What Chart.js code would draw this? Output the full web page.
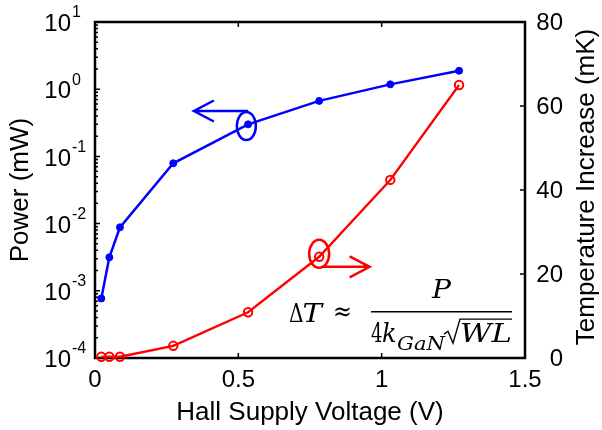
<!DOCTYPE html>
<html>
<head>
<meta charset="utf-8">
<script src="https://cdn.jsdelivr.net/npm/chart.js@4.4.0/dist/chart.umd.min.js"></script>
<style>
  html, body { margin: 0; padding: 0; background: #fff; }
</style>
</head>
<body>
<canvas id="hall" width="602" height="430"></canvas>
<script>
// values
const voltage = [0.022, 0.05, 0.087, 0.273, 0.534, 0.782, 1.03, 1.27];
const power = [0.00077, 0.00315, 0.0088, 0.079, 0.30, 0.67, 1.18, 1.88];   // mW
const tempRise = [0.3, 0.3, 0.3, 2.9, 10.9, 24.1, 42.4, 65.0];            // mK

const voltageTicks = [0, 0.5, 1, 1.5];
const powerTicks = [1e-4, 1e-3, 1e-2, 1e-1, 1, 10];
const tempTicks = [0, 20, 40, 60, 80];

// annotation anchors, in data units
const blueRing = { x: 0.528, y: 0.283 };
const blueArrow = { from: 0.534, to: 0.345, y: 0.474 };
const redRing = { x: 0.782, y: 24.8 };
const redArrow = { from: 0.792, to: 0.958, y: 21.7 };
const formulaAt = { x: 1.2087, y: 11.0 };

const sans = '"Liberation Sans", Arial, sans-serif';
const serif = '"DejaVu Serif", "Liberation Serif", serif';

function arrow(ctx, x0, x1, y, color) {
  const dir = x1 < x0 ? 1 : -1;
  ctx.strokeStyle = color;
  ctx.lineWidth = 2.5;
  ctx.beginPath();
  ctx.moveTo(x0, y);
  ctx.lineTo(x1, y);
  ctx.moveTo(x1 + dir * 20, y - 10.5);
  ctx.lineTo(x1, y);
  ctx.lineTo(x1 + dir * 20, y + 10.5);
  ctx.stroke();
}

function ring(ctx, x, y, rx, ry, color) {
  ctx.strokeStyle = color;
  ctx.lineWidth = 2.5;
  ctx.beginPath();
  ctx.ellipse(x, y, rx, ry, 0, 0, Math.PI * 2);
  ctx.stroke();
}

// draw a piece of text stretched to span x0..x1
function fitText(ctx, text, font, x0, x1, yb) {
  ctx.font = font;
  const w = ctx.measureText(text).width;
  ctx.save();
  ctx.translate(x0, yb);
  ctx.scale((x1 - x0) / w, 1);
  ctx.fillText(text, 0, 0);
  ctx.restore();
}

const decor = {
  id: 'decor',
  beforeDatasetsDraw(chart) {
    const { ctx, chartArea: a, scales } = chart;
    const { x, y, y1 } = scales;
    ctx.save();
    ctx.strokeStyle = '#000';
    ctx.lineWidth = 1.5;
    ctx.beginPath();
    voltageTicks.forEach(v => {
      const px = x.getPixelForValue(v);
      ctx.moveTo(px, a.bottom); ctx.lineTo(px, a.bottom - 5);
      ctx.moveTo(px, a.top); ctx.lineTo(px, a.top + 5);
    });
    powerTicks.forEach(v => {
      const py = y.getPixelForValue(v);
      ctx.moveTo(a.left, py); ctx.lineTo(a.left + 5, py);
      if (v < 10) {
        for (let k = 2; k <= 9; k++) {
          const pm = y.getPixelForValue(v * k);
          ctx.moveTo(a.left, pm); ctx.lineTo(a.left + 3, pm);
        }
      }
    });
    tempTicks.forEach(v => {
      const py = y1.getPixelForValue(v);
      ctx.moveTo(a.right, py); ctx.lineTo(a.right - 5, py);
    });
    ctx.stroke();
    ctx.lineWidth = 2.5;
    ctx.strokeRect(a.left, a.top, a.right - a.left, a.bottom - a.top);
    ctx.restore();
  },
  afterDatasetsDraw(chart) {
    const { ctx, chartArea: a, scales } = chart;
    const { x, y, y1 } = scales;
    ctx.save();
    ctx.fillStyle = '#000';

    // tick labels
    ctx.font = '24px ' + sans;
    ctx.textAlign = 'center';
    ctx.textBaseline = 'middle';
    voltageTicks.forEach(v => ctx.fillText(String(v), x.getPixelForValue(v), a.bottom + 22));

    ctx.textAlign = 'right';
    tempTicks.forEach(v => ctx.fillText(String(v), 563, y1.getPixelForValue(v) + 1));

    powerTicks.forEach(v => {
      const py = y.getPixelForValue(v);
      const e = Math.round(Math.log10(v));
      ctx.font = '24px ' + sans;
      ctx.textAlign = 'right';
      ctx.fillText('10', 71, py + 2.5);
      ctx.font = '16px ' + sans;
      ctx.textAlign = 'left';
      ctx.fillText(e < 0 ? '-' + (-e) : String(e), 72, py - 9);
    });

    // axis titles
    ctx.font = '26px ' + sans;
    ctx.textAlign = 'center';
    ctx.fillText('Hall Supply Voltage (V)', (a.left + a.right) / 2, 413);
    ctx.save();
    ctx.translate(21, (a.top + a.bottom) / 2);
    ctx.rotate(-Math.PI / 2);
    ctx.fillText('Power (mW)', 0, 0);
    ctx.restore();
    ctx.save();
    ctx.translate(587, (a.top + a.bottom) / 2 - 3);
    ctx.rotate(-Math.PI / 2);
    ctx.fillText('Temperature Increase (mK)', 0, 0);
    ctx.restore();

    // callouts
    ring(ctx, x.getPixelForValue(blueRing.x), y.getPixelForValue(blueRing.y), 9.5, 14, '#0000ff');
    arrow(ctx, x.getPixelForValue(blueArrow.from), x.getPixelForValue(blueArrow.to), y.getPixelForValue(blueArrow.y), '#0000ff');
    ring(ctx, x.getPixelForValue(redRing.x), y1.getPixelForValue(redRing.y), 10, 14, '#ff0000');
    arrow(ctx, x.getPixelForValue(redArrow.from), x.getPixelForValue(redArrow.to), y1.getPixelForValue(redArrow.y), '#ff0000');

    // formula  dT ~ P / (4 k_GaN sqrt(WL))
    const fx = x.getPixelForValue(formulaAt.x);
    const fy = y1.getPixelForValue(formulaAt.y);
    const it = 'italic 26px ' + serif;
    const up = '26px ' + serif;
    ctx.fillStyle = '#000';
    ctx.strokeStyle = '#000';
    ctx.textBaseline = 'alphabetic';
    ctx.textAlign = 'left';
    fitText(ctx, '\u0394', up, fx - 152.5, fx - 138, fy + 10.3);
    fitText(ctx, 'T', it, fx - 139, fx - 119.5, fy + 10.3);
    fitText(ctx, '\u2248', up, fx - 108.5, fx - 89.5, fy + 8);
    fitText(ctx, 'P', it, fx - 9.5, fx + 9.5, fy - 13.7);
    fitText(ctx, '4', up, fx - 70.5, fx - 59, fy + 30.3);
    fitText(ctx, 'k', it, fx - 59.5, fx - 45, fy + 30.3);
    fitText(ctx, 'GaN', 'italic 18px ' + serif, fx - 44.5, fx + 3.5, fy + 38.3);
    fitText(ctx, 'WL', it, fx + 18.5, fx + 70.5, fy + 30.3);
    ctx.lineWidth = 1.6;
    ctx.beginPath();
    ctx.moveTo(fx - 70.5, fy);
    ctx.lineTo(fx + 70.5, fy);
    ctx.stroke();
    ctx.lineWidth = 1.4;
    ctx.beginPath();
    ctx.moveTo(fx + 2.5, fy + 22.3);
    ctx.lineTo(fx + 6.5, fy + 19.5);
    ctx.lineTo(fx + 11.5, fy + 31.3);
    ctx.lineTo(fx + 18.5, fy + 7.3);
    ctx.lineTo(fx + 70.5, fy + 7.3);
    ctx.stroke();
    ctx.restore();
  }
};

const ctx = document.getElementById('hall');
const hall = new Chart(ctx, {
  type: 'line',
  data: {
    datasets: [
      {
        label: 'Power',
        data: voltage.map((v, i) => ({ x: v, y: power[i] })),
        yAxisID: 'y',
        borderColor: '#0000ff',
        backgroundColor: '#0000ff',
        borderWidth: 2.5,
        pointRadius: 3.5,
        pointBorderWidth: 1,
        tension: 0,
        clip: false,
      },
      {
        label: 'Temperature',
        data: voltage.map((v, i) => ({ x: v, y: tempRise[i] })),
        yAxisID: 'y1',
        borderColor: '#ff0000',
        backgroundColor: 'rgba(0,0,0,0)',
        borderWidth: 2.3,
        pointRadius: 4.2,
        pointBorderWidth: 2,
        tension: 0,
        clip: false,
      },
    ],
  },
  options: {
    responsive: false,
    animation: false,
    layout: { padding: { top: 22, left: 0, right: 0, bottom: 0 } },
    plugins: { legend: { display: false }, tooltip: { enabled: false } },
    scales: {
      x: {
        type: 'linear', min: 0, max: 1.5,
        grid: { display: false }, border: { display: false },
        ticks: { display: false },
        afterBuildTicks: s => { s.ticks = voltageTicks.map(v => ({ value: v })); },
        afterFit: s => { s.height = 72; },
      },
      y: {
        type: 'logarithmic', position: 'left', min: 1e-4, max: 10,
        grid: { display: false }, border: { display: false },
        ticks: { display: false },
        afterBuildTicks: s => { s.ticks = powerTicks.map(v => ({ value: v })); },
        afterFit: s => { s.width = 95; },
      },
      y1: {
        type: 'linear', position: 'right', min: 0, max: 80,
        grid: { display: false }, border: { display: false },
        ticks: { display: false },
        afterBuildTicks: s => { s.ticks = tempTicks.map(v => ({ value: v })); },
        afterFit: s => { s.width = 77; },
      },
    },
  },
  plugins: [decor],
});
</script>
</body>
</html>
